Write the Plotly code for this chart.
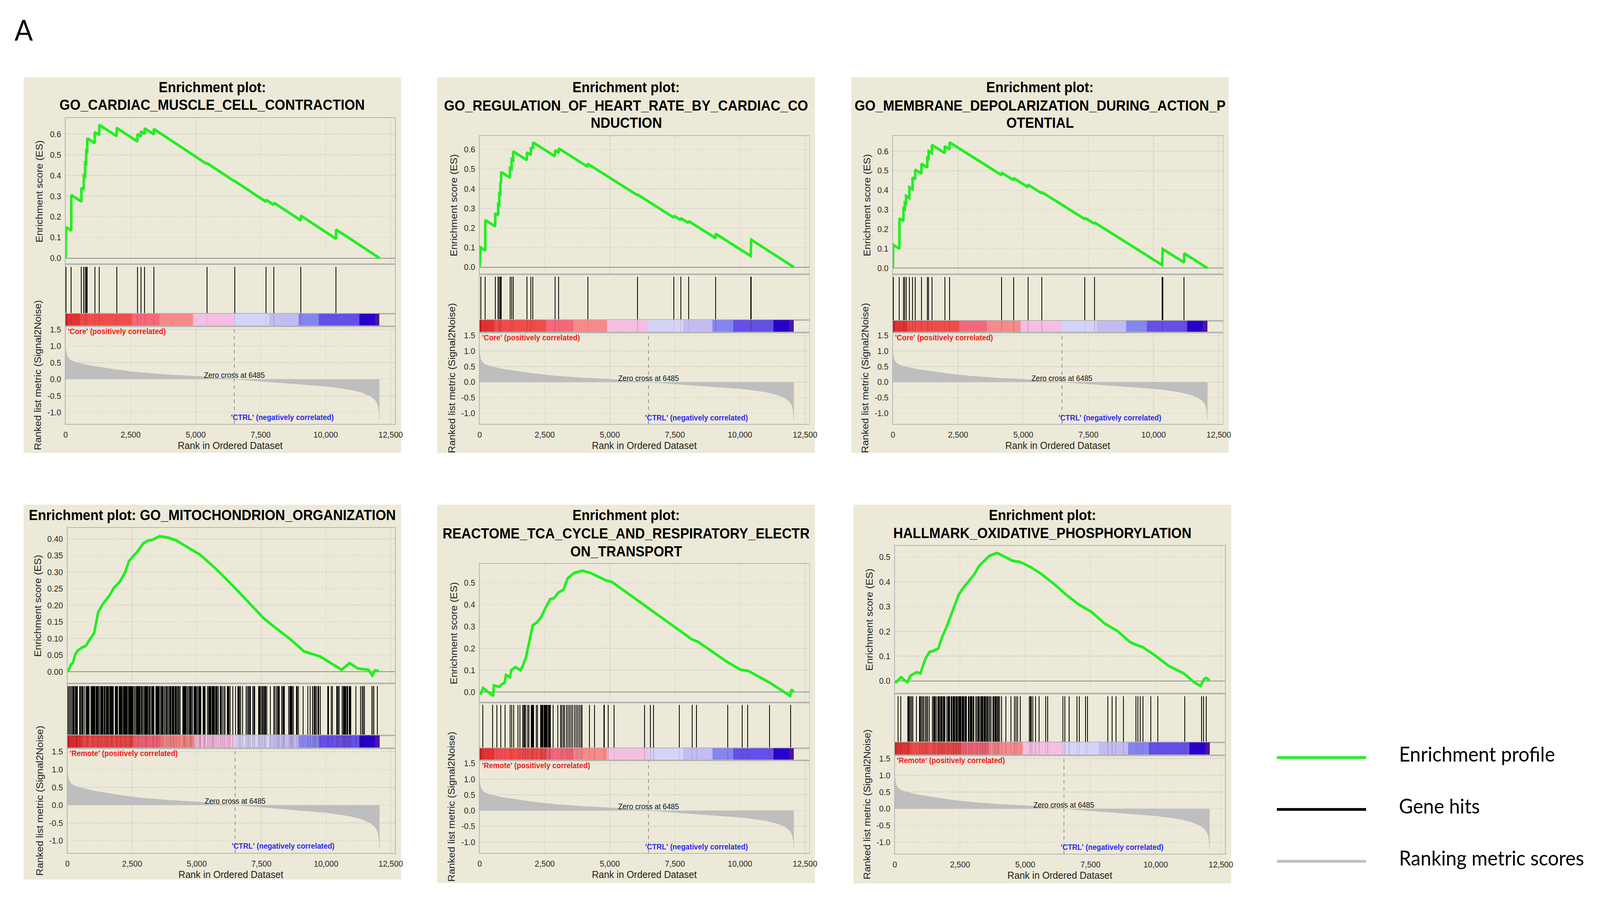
import plotly.graph_objects as go

W, H = 4385, 2311
FONT = "Liberation Sans, Arial, Helvetica, sans-serif"
LEG_FONT = "Lato, Carlito, Calibri, sans-serif"

# ---------------- shared data ----------------
zero_cross = 6485
x_ticks = [0, 2500, 5000, 7500, 10000, 12500]
x_tick_labels = ["0", "2,500", "5,000", "7,500", "10,000", "12,500"]
metric_ticks = [-1.0, -0.5, 0.0, 0.5, 1.0, 1.5]
metric_tick_labels = ["-1.0", "-0.5", "0.0", "0.5", "1.0", "1.5"]

es_ticks_a = [0.0, 0.1, 0.2, 0.3, 0.4, 0.5, 0.6]
es_tick_labels_a = ["0.0", "0.1", "0.2", "0.3", "0.4", "0.5", "0.6"]
es_ticks_b = [0.0, 0.05, 0.10, 0.15, 0.20, 0.25, 0.30, 0.35, 0.40]
es_tick_labels_b = ["0.00", "0.05", "0.10", "0.15", "0.20", "0.25", "0.30", "0.35", "0.40"]
es_ticks_c = [0.0, 0.1, 0.2, 0.3, 0.4, 0.5]
es_tick_labels_c = ["0.0", "0.1", "0.2", "0.3", "0.4", "0.5"]

# ranked list metric (Signal2Noise), same ranked list in every panel
metric_rank = [0, 15, 40, 100, 200, 350, 500, 750, 1000, 1500,
               2000, 2500, 3000, 3500, 4000, 4500, 5000, 5500, 6000, 6485,
               7000, 7500, 8000, 8500, 9000, 9500, 10000, 10500, 11000, 11400,
               11700, 11900, 12000, 12040, 12060, 12070]
metric_value = [0.92, 0.84, 0.74, 0.64, 0.57, 0.52, 0.49, 0.44, 0.40, 0.34,
                0.28, 0.23, 0.19, 0.16, 0.13, 0.11, 0.09, 0.06, 0.03, 0.0,
                -0.03, -0.06, -0.09, -0.12, -0.15, -0.18, -0.21, -0.26, -0.32, -0.40,
                -0.50, -0.62, -0.76, -0.90, -1.05, -1.22]

# colour bar of the ranked list (segment edges in rank units)
cbar_edges = [0, 70, 550, 2550, 3600, 4900, 6485, 7820, 8950, 9740, 11290, 11890, 12070]
cbar_colors = ["#c81e1e", "#e03434", "#f04c4c", "#f4687a", "#f78a8a", "#f4bfe2",
               "#d4d4f8", "#c2bcf2", "#8585f0", "#6450e6", "#2800c8", "#5012a8"]

titles = [
    ["Enrichment plot:", "GO_CARDIAC_MUSCLE_CELL_CONTRACTION"],
    ["Enrichment plot:", "GO_REGULATION_OF_HEART_RATE_BY_CARDIAC_CO", "NDUCTION"],
    ["Enrichment plot:", "GO_MEMBRANE_DEPOLARIZATION_DURING_ACTION_P", "OTENTIAL"],
    ["Enrichment plot: GO_MITOCHONDRION_ORGANIZATION"],
    ["Enrichment plot:", "REACTOME_TCA_CYCLE_AND_RESPIRATORY_ELECTR", "ON_TRANSPORT"],
    ["Enrichment plot:", "HALLMARK_OXIDATIVE_PHOSPHORYLATION"],
]
pos_labels = ["'Core' (positively correlated)"] * 3 + ["'Remote' (positively correlated)"] * 3
neg_label = "'CTRL' (negatively correlated)"
zero_label = "Zero cross at 6485"
es_axis_title = "Enrichment score (ES)"
metric_axis_title = "Ranked list metric (Signal2Noise)"
x_axis_title = "Rank in Ordered Dataset"
legend_labels = ["Enrichment profile", "Gene hits", "Ranking metric scores"]
legend_colors = ["#22ee22", "#000000", "#c0c0c0"]
panel_letter = "A"

# ---------------- panel 1 ----------------
es1_rank = [0, 15, 216, 216, 606, 606, 698, 698, 750, 750, 791, 791, 832, 832, 1119, 1119,
            1294, 1294, 1961, 1961, 2762, 2762, 2895, 2895, 3039, 3039, 3388, 3388, 5431, 5431,
            6499, 6499, 7710, 7710, 8008, 8008, 9045, 9045, 10400, 10400, 12070]
es1_score = [0.0, 0.15, 0.133, 0.305, 0.273, 0.34, 0.332, 0.40, 0.396, 0.46, 0.457, 0.52,
             0.517, 0.58, 0.556, 0.61, 0.595, 0.645, 0.59, 0.63, 0.564, 0.60, 0.589, 0.613,
             0.601, 0.628, 0.599, 0.625, 0.455, 0.46, 0.371, 0.373, 0.272, 0.282, 0.257, 0.268,
             0.182, 0.205, 0.093, 0.138, 0.0]
hits1 = [15, 216, 606, 698, 750, 791, 832, 1119, 1294, 1961, 2762, 2895, 3039, 3388, 5431,
         6499, 7710, 8008, 9045, 10400]

# ---------------- panel 2 ----------------
es2_rank = [0, 41, 216, 216, 597, 597, 711, 711, 752, 752, 793, 793, 824, 824, 1164, 1164,
            1226, 1226, 1287, 1287, 1813, 1813, 1967, 1967, 2049, 2049, 2894, 2894, 3038, 3038,
            4150, 4150, 6066, 6066, 7466, 7466, 7724, 7724, 8023, 8023, 9063, 9063, 10412, 10412,
            10432, 10432, 12070]
es2_score = [0.0, 0.10, 0.085, 0.24, 0.208, 0.275, 0.265, 0.32, 0.317, 0.375, 0.372, 0.43,
             0.427, 0.485, 0.456, 0.505, 0.50, 0.55, 0.545, 0.59, 0.546, 0.585, 0.572, 0.61,
             0.603, 0.636, 0.565, 0.595, 0.583, 0.605, 0.512, 0.527, 0.366, 0.37, 0.252, 0.262,
             0.240, 0.25, 0.225, 0.235, 0.148, 0.17, 0.057, 0.10, 0.098, 0.14, 0.0]
hits2 = [41, 216, 597, 711, 752, 793, 824, 1164, 1226, 1287, 1813, 1967, 2049, 2894, 3038,
         4150, 6066, 7466, 7724, 8023, 9063, 10412, 10432]

# ---------------- panel 3 ----------------
es3_rank = [0, 10, 247, 247, 401, 401, 453, 453, 504, 504, 628, 628, 751, 751, 854, 854,
            1091, 1091, 1317, 1317, 1368, 1368, 1492, 1492, 1986, 1986, 2171, 2171, 4167, 4167,
            4630, 4630, 5185, 5185, 5710, 5710, 7366, 7366, 7737, 7737, 10329, 10329, 10350, 10350,
            11173, 11173, 12070]
es3_score = [0.0, 0.12, 0.10, 0.255, 0.242, 0.305, 0.301, 0.335, 0.331, 0.37, 0.36, 0.415,
             0.405, 0.465, 0.456, 0.505, 0.485, 0.535, 0.516, 0.565, 0.561, 0.60, 0.59, 0.632,
             0.59, 0.625, 0.609, 0.645, 0.477, 0.49, 0.451, 0.462, 0.415, 0.428, 0.384, 0.39,
             0.251, 0.258, 0.227, 0.234, 0.016, 0.058, 0.056, 0.098, 0.029, 0.076, 0.0]
hits3 = [10, 247, 401, 453, 504, 628, 751, 854, 1091, 1317, 1368, 1492, 1986, 2171, 4167,
         4630, 5185, 5710, 7366, 7737, 10329, 10350, 11173]

# ---------------- panel 4 ----------------
es4_rank = [0, 52, 134, 207, 310, 414, 569, 724, 827, 931, 1034, 1189, 1396, 1603, 1810,
            2017, 2223, 2378, 2534, 2740, 2947, 3102, 3309, 3568, 3878, 4188, 4705, 5119, 5739,
            6360, 6980, 7601, 8118, 8635, 9152, 9772, 10186, 10600, 10910, 11220, 11427, 11634,
            11789, 11892, 12047]
es4_score = [0.0, 0.006, 0.022, 0.026, 0.054, 0.065, 0.073, 0.079, 0.093, 0.105, 0.117, 0.18,
             0.207, 0.227, 0.254, 0.27, 0.298, 0.333, 0.346, 0.365, 0.388, 0.394, 0.398, 0.408,
             0.404, 0.396, 0.372, 0.353, 0.31, 0.262, 0.211, 0.16, 0.128, 0.097, 0.061, 0.046,
             0.026, 0.006, 0.026, 0.01, 0.008, 0.006, -0.011, 0.004, 0.002]
hits4 = [16, 63, 110, 157,
         203, 236, 269, 302, 335, 368, 381,
         474, 507, 554, 582, 610, 671, 731, 759, 787, 815, 843,
         904, 937, 970, 1003, 1036, 1069, 1102, 1135, 1168, 1201, 1241,
         1287, 1320, 1353, 1386, 1419, 1456,
         1498, 1531, 1564, 1597, 1630, 1663, 1696, 1713,
         1745, 1778, 1843, 1876, 1909, 1942,
         1993, 2026, 2059, 2092, 2125, 2158, 2191, 2224, 2257, 2290, 2323, 2356, 2389, 2422,
         2455, 2470,
         2498, 2530, 2573, 2619,
         2657, 2690, 2723, 2756, 2789, 2822, 2855, 2888, 2928,
         2975, 3008, 3041, 3074, 3107, 3140, 3173, 3217,
         3264, 3297, 3330, 3348,
         3414, 3447, 3480, 3513, 3544,
         3591, 3628, 3666, 3694, 3731, 3778, 3825, 3864,
         3909, 3942, 3975, 4008, 4049,
         4086, 4115, 4152, 4185, 4218,
         4269, 4302, 4335, 4362,
         4456, 4489, 4522, 4555, 4588, 4621, 4667, 4713, 4746, 4779, 4797,
         4844, 4900, 4933, 4966, 4984, 5031, 5078, 5111, 5144, 5157,
         5241, 5274, 5307, 5320,
         5414, 5451, 5484, 5516, 5554,
         5591, 5624, 5657, 5690, 5723, 5756, 5787,
         5834, 5914, 5947, 5984, 6045, 6092, 6185, 6218, 6251, 6292,
         6397, 6504, 6584, 6617, 6650, 6700, 6771,
         6911, 6946, 6981, 7004, 7039, 7074, 7168, 7203, 7238,
         7392, 7425, 7458, 7495, 7542, 7579, 7612, 7635, 7659, 7705,
         7846, 7986, 8032, 8093, 8126, 8159, 8196, 8290, 8323, 8356, 8392,
         8561, 8594, 8627, 8660, 8693, 8734,
         8850, 8883, 8935, 9108, 9294, 9388, 9481, 9514, 9547, 9580, 9622, 9692, 9725, 9771,
         10066, 10103, 10206, 10243, 10416, 10449, 10482, 10510,
         10627, 10673, 10700, 10730, 10767, 10800, 10837, 10893, 10928, 10963,
         11155, 11328, 11398, 11440, 11491, 11770, 11810, 11850, 11990]

# ---------------- panel 5 ----------------
es5_rank = [0, 51, 134, 515, 546, 752, 855, 958, 1009, 1164, 1215, 1370, 1576, 1679, 1782,
            1885, 2039, 2194, 2348, 2503, 2709, 2863, 3018, 3223, 3378, 3635, 3944, 4253, 4871,
            5077, 5901, 7446, 8167, 8373, 9506, 10021, 10330, 11153, 11926, 11977, 12070]
es5_score = [0.0, -0.006, 0.018, -0.018, 0.03, 0.024, 0.036, 0.042, 0.078, 0.068, 0.10, 0.114,
             0.10, 0.126, 0.16, 0.22, 0.305, 0.318, 0.34, 0.378, 0.425, 0.43, 0.455, 0.468, 0.52,
             0.545, 0.555, 0.545, 0.51, 0.504, 0.433, 0.30, 0.24, 0.231, 0.138, 0.102, 0.096,
             0.042, -0.018, 0.012, 0.0]
hits5 = [124, 501, 665, 805, 969, 1174, 1231, 1313, 1478, 1543, 1650, 1690, 1730, 1773, 1847,
         1896, 1978, 2010, 2045, 2077, 2175, 2216, 2339, 2372, 2405, 2438, 2471, 2504, 2537,
         2570, 2603, 2636, 2669, 2702, 2717, 2815, 2996, 3102, 3150, 3206, 3264, 3329, 3395,
         3452, 3510, 3575, 3640, 3706, 3764, 3821, 3890, 3931, 4210, 4415, 4768, 4793, 4941,
         5170, 6330, 6560, 6675, 7665, 8160, 8335, 9530, 10090, 10290, 11130, 11950]

# ---------------- panel 6 ----------------
es6_rank = [0, 49, 147, 245, 343, 490, 588, 686, 833, 980, 1176, 1324, 1471, 1667, 1814, 1961,
            2108, 2255, 2451, 2647, 2843, 3039, 3235, 3431, 3627, 3922, 4216, 4510, 4804, 5196,
            5588, 6078, 6569, 7059, 7549, 8039, 8529, 9020, 9314, 9510, 10000, 10490, 11078,
            11471, 11716, 11863, 11941, 12059]
es6_score = [0.0, -0.005, 0.005, 0.015, 0.005, -0.005, 0.02, 0.025, 0.035, 0.03, 0.09, 0.116,
             0.121, 0.131, 0.177, 0.212, 0.253, 0.293, 0.348, 0.379, 0.404, 0.429, 0.465, 0.485,
             0.505, 0.517, 0.50, 0.485, 0.48, 0.46, 0.434, 0.394, 0.348, 0.308, 0.278, 0.232,
             0.202, 0.157, 0.143, 0.136, 0.101, 0.061, 0.03, -0.005, -0.02, 0.008, 0.012, 0.002]
hits6 = [124, 231, 494, 527, 560, 601, 642, 699, 823, 946, 985, 1030, 1069, 1119, 1176, 1217,
         1258, 1316, 1447, 1482, 1517, 1552, 1587, 1645, 1680, 1715, 1750, 1785, 1820, 1855,
         1890, 1916, 1998, 2035, 2070, 2105, 2163, 2198, 2233, 2268, 2303, 2338, 2373, 2408,
         2443, 2478, 2513, 2532, 2574, 2609, 2644, 2679, 2714, 2738, 2820, 2855, 2890, 2925,
         2960, 2995, 3026, 3108, 3150, 3190, 3231, 3272, 3307, 3342, 3377, 3412, 3447, 3482,
         3517, 3560, 3601, 3640, 3683, 3765, 3800, 3835, 3870, 3905, 3940, 3975, 4012, 4094,
         4259, 4447, 4587, 4653, 4711, 4818, 5163, 5196, 5229, 5286, 5393, 5533, 5779, 5862,
         6437, 6519, 6684, 6988, 7078, 7316, 7382, 8163, 8328, 8475, 8763, 9248, 9314, 9413,
         9519, 9807, 10078, 11122, 11755, 11837, 11936]

es_rank = [es1_rank, es2_rank, es3_rank, es4_rank, es5_rank, es6_rank]
es_score = [es1_score, es2_score, es3_score, es4_score, es5_score, es6_score]
hits = [hits1, hits2, hits3, hits4, hits5, hits6]
es_ticks = [es_ticks_a, es_ticks_a, es_ticks_a, es_ticks_b, es_ticks_c, es_ticks_c]
es_tick_labels = [es_tick_labels_a, es_tick_labels_a, es_tick_labels_a,
                  es_tick_labels_b, es_tick_labels_c, es_tick_labels_c]

# ---------------- layout geometry (pixels) ----------------
geo = [
    dict(beige=(59, 194, 1100, 1157), px=(175, 1083), es=(299, 673), hits=(673, 800),
         cbar=(800, 832), met=(832, 1083), ty=[220, 265], es_rng=(-0.029, 0.677), eslab=72),
    dict(beige=(1200, 194, 2242, 1157), px=(1317, 2226), es=(345, 699), hits=(699, 816),
         cbar=(816, 848), met=(848, 1083), ty=[220, 267, 311], es_rng=(-0.036, 0.668), eslab=71),
    dict(beige=(2342, 194, 3383, 1157), px=(2457, 3367), es=(345, 699), hits=(699, 818),
         cbar=(818, 848), met=(848, 1083), ty=[220, 267, 311], es_rng=(-0.031, 0.677), eslab=71),
    dict(beige=(59, 1290, 1100, 2251), px=(180, 1083), es=(1349, 1748), hits=(1748, 1881),
         cbar=(1881, 1914), met=(1914, 2183), ty=[1317], es_rng=(-0.035, 0.4335), eslab=82),
    dict(beige=(1200, 1290, 2242, 2260), px=(1317, 2226), es=(1441, 1797), hits=(1797, 1914),
         cbar=(1914, 1945), met=(1945, 2183), ty=[1317, 1364, 1410], es_rng=(-0.048, 0.5875), eslab=71),
    dict(beige=(2348, 1290, 3390, 2261), px=(2462, 3373), es=(1395, 1774), hits=(1774, 1899),
         cbar=(1899, 1932), met=(1932, 2185), ty=[1317, 1363], es_rng=(-0.051, 0.546), eslab=70),
]

X_MAX = 12660
MET_RANGE = [-1.35, 1.6]


def fx(v):
    return v / W


def fy(v):
    return 1 - v / H


def nm(i, a):
    return a if i == 1 else f"{a}{i}"


frame = dict(showline=True, mirror=True, linecolor="#b4b4b4", linewidth=2, ticks="",
             zeroline=False, showgrid=False, fixedrange=True)
grid = dict(showgrid=True, gridcolor="#c4c4c4", gridwidth=1.5, griddash="dot")
tickfont = dict(family=FONT, size=22, color="#2a2a2a")

fig = go.Figure()
axes = {}
annotations = []
shapes = []

cb_x = [(cbar_edges[i] + cbar_edges[i + 1]) / 2 for i in range(len(cbar_colors))]
cb_w = [cbar_edges[i + 1] - cbar_edges[i] for i in range(len(cbar_colors))]

for p, g in enumerate(geo):
    ids = [4 * p + 1, 4 * p + 2, 4 * p + 3, 4 * p + 4]
    x0, x1 = g["px"]
    areas = [g["es"], g["hits"], g["cbar"], g["met"]]
    for k, i in enumerate(ids):
        top, bot = areas[k]
        xa = dict(frame, domain=[fx(x0), fx(x1)], anchor=nm(i, "y"), range=[0, X_MAX],
                  tickvals=x_ticks, showticklabels=False)
        ya = dict(frame, domain=[fy(bot), fy(top)], anchor=nm(i, "x"), showticklabels=False)
        if k == 0:
            xa.update(grid)
            ya.update(grid)
            ya.update(range=list(g["es_rng"]), tickvals=es_ticks[p], ticktext=es_tick_labels[p],
                      showticklabels=True, tickfont=tickfont, ticklabelstandoff=6,
                      zeroline=True, zerolinecolor="#8c8c8c", zerolinewidth=2)
        elif k == 1:
            ya.update(range=[0, 1.06])
        elif k == 2:
            ya.update(range=[0, 1])
        else:
            xa.update(grid)
            ya.update(grid)
            xa.update(ticktext=x_tick_labels, showticklabels=True, tickfont=tickfont,
                      ticklabelstandoff=6)
            ya.update(range=MET_RANGE, tickvals=metric_ticks, ticktext=metric_tick_labels,
                      showticklabels=True, tickfont=tickfont, ticklabelstandoff=6)
        axes[nm(i, "xaxis")] = xa
        axes[nm(i, "yaxis")] = ya

    # enrichment profile
    fig.add_trace(go.Scatter(x=es_rank[p], y=es_score[p], mode="lines",
                             line=dict(color="#22ee22", width=7),
                             xaxis=nm(ids[0], "x"), yaxis=nm(ids[0], "y")))
    # gene hits
    fig.add_trace(go.Bar(x=hits[p], y=[1] * len(hits[p]), width=30,
                         marker=dict(color="#000000", line=dict(width=0)),
                         xaxis=nm(ids[1], "x"), yaxis=nm(ids[1], "y")))
    # colour bar of ranked list
    fig.add_trace(go.Bar(x=cb_x, y=[1] * len(cb_x), width=cb_w,
                         marker=dict(color=cbar_colors, line=dict(width=0)),
                         xaxis=nm(ids[2], "x"), yaxis=nm(ids[2], "y")))
    fig.add_trace(go.Bar(x=hits[p], y=[1] * len(hits[p]), width=22,
                         marker=dict(color="rgba(60,0,0,0.18)", line=dict(width=0)),
                         xaxis=nm(ids[2], "x"), yaxis=nm(ids[2], "y")))
    # ranked list metric
    fig.add_trace(go.Scatter(x=metric_rank, y=metric_value, mode="lines", fill="tozeroy",
                             fillcolor="#bebebe", line=dict(color="#b8b8b8", width=1),
                             xaxis=nm(ids[3], "x"), yaxis=nm(ids[3], "y")))

    # zero-cross dashed line
    shapes.append(dict(type="line", xref=nm(ids[3], "x"), yref=nm(ids[3], "y") + " domain",
                       x0=zero_cross, x1=zero_cross, y0=0, y1=1,
                       line=dict(color="#8a8a8a", width=2, dash="dash")))

    # beige panel background
    bx0, by0, bx1, by1 = g["beige"]
    shapes.append(dict(type="rect", xref="paper", yref="paper", layer="below",
                       x0=fx(bx0), x1=fx(bx1), y0=fy(by1), y1=fy(by0),
                       fillcolor="#ece9d8", line=dict(width=0)))

    # titles
    cx = (bx0 + bx1) / 2
    for line_txt, ly in zip(titles[p], g["ty"]):
        annotations.append(dict(xref="paper", yref="paper", x=fx(cx), y=fy(ly), text=line_txt,
                                showarrow=False, xanchor="center", yanchor="middle",
                                font=dict(family=FONT, size=37, color="#000000", weight="bold")))
    # axis titles
    es_t, es_b = g["es"]
    m_t, m_b = g["met"]
    annotations.append(dict(xref="paper", yref="paper", x=fx(x0 - g["eslab"]), y=fy((es_t + es_b) / 2),
                            text=es_axis_title, textangle=-90, showarrow=False,
                            xanchor="center", yanchor="middle",
                            font=dict(family=FONT, size=26, color="#222222")))
    annotations.append(dict(xref="paper", yref="paper", x=fx(x0 - 77), y=fy((m_t + m_b) / 2),
                            text=metric_axis_title, textangle=-90, showarrow=False,
                            xanchor="center", yanchor="middle",
                            font=dict(family=FONT, size=26, color="#222222")))
    annotations.append(dict(xref="paper", yref="paper", x=fx((x0 + x1) / 2), y=fy(m_b + 55),
                            text=x_axis_title, showarrow=False, xanchor="center", yanchor="middle",
                            font=dict(family=FONT, size=26, color="#222222")))
    # in-plot labels
    c_b = g["cbar"][1]
    annotations.append(dict(xref="paper", yref="paper", x=fx(x0 + 4), y=fy(c_b + 13),
                            text=pos_labels[p], showarrow=False, xanchor="left", yanchor="middle",
                            font=dict(family=FONT, size=20, color="#f01818", weight="bold")))
    annotations.append(dict(xref=nm(ids[3], "x"), yref=nm(ids[3], "y"), x=zero_cross, y=0.0,
                            text=zero_label, showarrow=False, xanchor="center", yanchor="bottom",
                            yshift=-3, font=dict(family=FONT, size=20, color="#111111")))
    annotations.append(dict(xref=nm(ids[3], "x"), yref=nm(ids[3], "y"), x=6330, y=-1.15,
                            text=neg_label, showarrow=False, xanchor="left", yanchor="middle",
                            font=dict(family=FONT, size=20, color="#2a2aee", weight="bold")))

# legend at right
leg_line_y = [1938, 2071, 2204]
for lbl, col, ly in zip(legend_labels, legend_colors, leg_line_y):
    shapes.append(dict(type="line", xref="paper", yref="paper", x0=fx(3516), x1=fx(3762),
                       y0=fy(ly), y1=fy(ly), line=dict(color=col, width=7)))
    annotations.append(dict(xref="paper", yref="paper", x=fx(3851), y=fy(ly - 10), text=lbl,
                            showarrow=False, xanchor="left", yanchor="middle",
                            font=dict(family=LEG_FONT, size=53, color="#000000")))

annotations.append(dict(xref="paper", yref="paper", x=fx(59), y=fy(72), text=panel_letter,
                        showarrow=False, xanchor="center", yanchor="middle",
                        font=dict(family=LEG_FONT, size=74, color="#000000")))

fig.update_layout(
    width=W, height=H, autosize=False,
    margin=dict(l=0, r=0, t=0, b=0, pad=0),
    paper_bgcolor="#ffffff", plot_bgcolor="#ffffff",
    showlegend=False, barmode="overlay", bargap=0,
    font=dict(family=FONT, color="#222222"),
    annotations=annotations, shapes=shapes,
    **axes,
)

# map the 4385x2311 design onto the whole browser viewport
fit_js = (
    "var de=document.documentElement, bd=document.body;"
    "de.style.margin='0';de.style.padding='0';de.style.overflow='hidden';"
    "bd.style.margin='0';bd.style.padding='0';bd.style.overflow='hidden';"
    "var gd=document.getElementById('{plot_id}');"
    "var vw=window.innerWidth, vh=window.innerHeight;"
    "var sx=vw/%d, sy=vh/%d;"
    "gd.style.transformOrigin='0 0';gd.style.transform='scale('+sx+','+sy+')';"
    "var pr=gd.parentElement;pr.style.width=vw+'px';pr.style.height=vh+'px';"
    "pr.style.overflow='hidden';bd.style.height=vh+'px';de.style.height=vh+'px';"
    % (W, H)
)
fig.write_html("out.html", config={"displayModeBar": False, "staticPlot": True},
               post_script=fit_js)
